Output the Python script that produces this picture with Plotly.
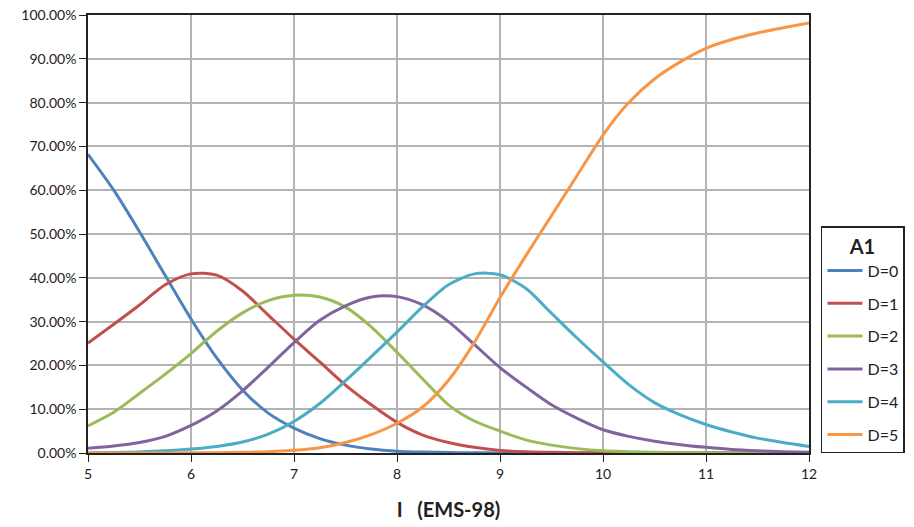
import plotly.graph_objects as go

intensity = [5.0, 5.25, 5.5, 5.75, 6.0, 6.25, 6.5, 6.75, 7.0, 7.25, 7.5, 7.75, 8.0, 8.25, 8.5, 8.75,
             9.0, 9.25, 9.5, 9.75, 10.0, 10.25, 10.5, 10.75, 11.0, 11.25, 11.5, 11.75, 12.0]

d0 = [68.2, 60.0, 50.5, 40.5, 30.6, 21.7, 14.4, 9.1, 5.7, 3.3, 1.8, 0.9, 0.4, 0.2, 0.1, 0.05,
      0.02, 0.0, 0.0, 0.0, 0.0, 0.0, 0.0, 0.0, 0.0, 0.0, 0.0, 0.0, 0.0]
d1 = [25.1, 29.4, 33.8, 38.4, 40.9, 40.6, 37.0, 31.5, 26.0, 20.8, 15.5, 11.0, 7.0, 4.1, 2.4, 1.3,
      0.6, 0.3, 0.15, 0.07, 0.03, 0.0, 0.0, 0.0, 0.0, 0.0, 0.0, 0.0, 0.0]
d2 = [6.2, 9.3, 13.6, 18.0, 22.7, 27.8, 32.0, 34.8, 36.0, 35.6, 33.3, 28.8, 23.0, 16.9, 11.0, 7.3,
      5.0, 3.0, 1.8, 1.0, 0.5, 0.3, 0.15, 0.08, 0.04, 0.0, 0.0, 0.0, 0.0]
d3 = [1.1, 1.6, 2.4, 3.8, 6.3, 9.6, 14.2, 19.6, 25.2, 30.3, 33.6, 35.6, 35.7, 33.8, 30.0, 24.8,
      19.5, 15.1, 11.0, 7.9, 5.3, 3.8, 2.7, 1.9, 1.3, 0.8, 0.5, 0.3, 0.15]
d4 = [0.05, 0.1, 0.25, 0.5, 0.9, 1.5, 2.5, 4.3, 7.2, 11.3, 16.5, 22.0, 27.6, 33.4, 38.4, 40.9,
      40.7, 37.6, 31.9, 26.2, 20.8, 15.6, 11.5, 8.7, 6.5, 4.8, 3.4, 2.4, 1.5]
d5 = [0.0, 0.0, 0.0, 0.0, 0.05, 0.08, 0.15, 0.3, 0.6, 1.2, 2.4, 4.2, 6.8, 10.5, 16.6, 25.2,
      35.5, 45.0, 54.2, 63.4, 72.6, 80.0, 85.4, 89.3, 92.4, 94.4, 95.9, 97.1, 98.2]

series_names = ["D=0", "D=1", "D=2", "D=3", "D=4", "D=5"]
series_values = [d0, d1, d2, d3, d4, d5]
colors = ["#4F81BD", "#C0504D", "#9BBB59", "#8064A2", "#4BACC6", "#F79646"]

x_ticks = [5, 6, 7, 8, 9, 10, 11, 12]
y_ticks = [0, 10, 20, 30, 40, 50, 60, 70, 80, 90, 100]
y_tick_labels = [f"{v:.2f}%" for v in y_ticks]

fig = go.Figure()
for name, vals, col in zip(series_names, series_values, colors):
    fig.add_trace(go.Scatter(
        x=intensity, y=vals, mode="lines", name=name, legendgroup=name,
        line=dict(color=col, width=3, shape="spline", smoothing=0.8),
    ))

font_family = "Lato, 'Open Sans', sans-serif"

fig.update_layout(
    width=914, height=527,
    margin=dict(l=88, r=105, t=15, b=74, autoexpand=False),
    paper_bgcolor="white", plot_bgcolor="white",
    font=dict(family=font_family, size=14, color="#222"),
    showlegend=True,
    legend=dict(
        x=1.0166, xanchor="left", y=0.518, yanchor="top",
        bordercolor="#222", borderwidth=1.5, bgcolor="white",
        font=dict(size=16, color="#222"),
        title=dict(text="<b>A1</b>", side="top center", font=dict(size=20, color="#222")),
        tracegroupgap=9,
        itemwidth=35,
    ),
    xaxis=dict(
        range=[5, 12], tickvals=x_ticks, ticktext=[str(v) for v in x_ticks],
        showgrid=True, gridcolor="#b3b3b3", gridwidth=1.5,
        showline=True, linecolor="#222", linewidth=1.5, mirror=True,
        ticks="outside", ticklen=7, tickcolor="#222",
        zeroline=False,
        title=dict(text="<b>I\u00a0\u00a0\u00a0(EMS-98)</b>", font=dict(size=20, color="#222"), standoff=22),
    ),
    yaxis=dict(
        range=[0, 100], tickvals=y_ticks, ticktext=y_tick_labels,
        showgrid=True, gridcolor="#b3b3b3", gridwidth=1.5,
        showline=True, linecolor="#222", linewidth=1.5, mirror=True,
        ticks="outside", ticklen=7, tickcolor="#222",
        zeroline=False,
    ),
)

fig.write_html("out.html")
